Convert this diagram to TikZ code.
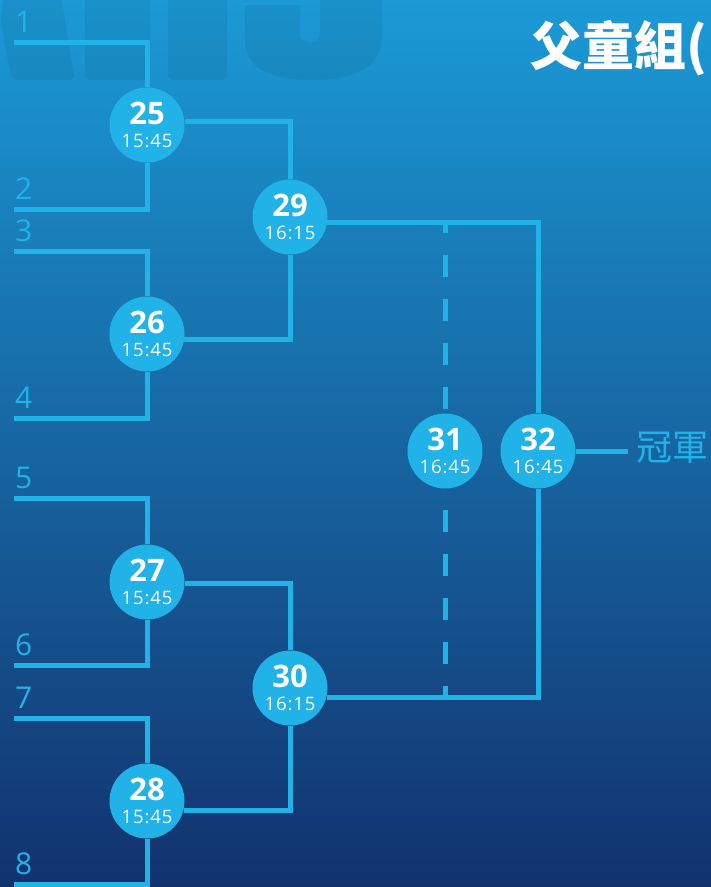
\documentclass[tikz,border=0pt]{standalone}
\usepackage{fontspec}
\setmainfont{Open Sans}
\newfontfamily\cjk{Noto Sans CJK TC}
\usetikzlibrary{positioning}
\definecolor{bracketblue}{RGB}{33,178,232}
\definecolor{skytop}{RGB}{27,154,214}
\definecolor{navybottom}{RGB}{18,50,110}
\tikzstyle{game}=[circle,fill=bracketblue,text=white,inner sep=0pt,
  minimum size=75pt,align=center,
  font=\fontsize{18.5}{23}\selectfont\addfontfeatures{LetterSpace=5}]
\tikzstyle{wire}=[draw=bracketblue,line width=5pt]
\tikzstyle{seed}=[anchor=base west,inner sep=0pt,text=bracketblue,
  font=\fontsize{30}{30}\selectfont]
\newcommand{\gamelabel}[2]{{\fontsize{31}{23}\selectfont\addfontfeatures{LetterSpace=0}\bfseries #1}\\#2}

\begin{document}
\begin{tikzpicture}[x=1pt, y=-1pt, on grid]
  \tikzstyle{champ}=[anchor=west,inner sep=0pt,text=bracketblue,
    font=\cjk\fontsize{36}{36}\selectfont]
  \tikzstyle{dashwire}=[wire,dash pattern=on 22pt off 22pt,dash phase=11pt]

  \useasboundingbox (0,0) rectangle (711,887);
  \shade[top color=skytop, bottom color=navybottom] (0,0) rectangle (711,887);
  \clip (0,0) rectangle (711,887);

  % faint letters in the background
  \begin{scope}[black, opacity=.06]
    \fill[rounded corners=6pt] (5,-10) -- (60,-10) -- (75,80) -- (12,80) -- (0,20) -- cycle;
    \fill[rounded corners=6pt] (85,-10) rectangle (150,80);
    \fill[rounded corners=6pt] (168,-10) rectangle (227,80);
    \fill (245,5) -- (245,40) .. controls (245,68) and (270,80) .. (312,80)
      .. controls (355,80) and (382,68) .. (382,35) -- (382,-10) -- (320,-10)
      -- (320,35) .. controls (320,45) and (300,45) .. (300,35) -- (300,5) -- cycle;
  \end{scope}

  \node[anchor=base west,inner sep=0pt,text=white,
    font=\cjk\bfseries\fontsize{52}{52}\selectfont] (title) at (530,65) {父童組(};

  % first round
  \node[game] (n25) at (147,125) {\gamelabel{25}{15:45}};
  \node[game] (n26) at (147,334) {\gamelabel{26}{15:45}};
  \node[game] (n27) at (147,582) {\gamelabel{27}{15:45}};
  \node[game] (n28) at (147,801) {\gamelabel{28}{15:45}};

  % semi finals
  \node[game] (n29) at (290,217) {\gamelabel{29}{16:15}};
  \node[game] (n30) at (290,688) {\gamelabel{30}{16:15}};

  % finals
  \node[game] (n32) at (538,451) {\gamelabel{32}{16:45}};
  \node[game, left=93pt of n32] (n31) {\gamelabel{31}{16:45}};
  \node[champ] (champ) at (636,448) {冠軍};

  \foreach \k/\y in {1/42,2/209,3/251,4/418,5/498,6/665,7/718,8/884} {
    \node[seed] (l\k) at (15,\y-10) {\k};
    \coordinate (s\k) at (14,\y);
  }

  \draw[wire] (s1) -| (n25);
  \draw[wire] (s2) -| (n25);
  \draw[wire] (s3) -| (n26);
  \draw[wire] (s4) -| (n26);
  \draw[wire] (s5) -| (n27);
  \draw[wire] (s6) -| (n27);
  \draw[wire] (s7) -| (n28);
  \draw[wire] (s8) -| (n28);

  \draw[wire] (n25.5) -| (n29);
  \draw[wire] (n26.-8) -| (n29);
  \draw[wire] (n27.-3) -| (n30);
  \draw[wire] (n28.-14) -| (n30);

  \draw[wire] (n29.-8) -| (n32);
  \draw[wire] (n30.-14) -| (n32);

  \coordinate (d1) at (445,222);
  \coordinate (d2) at (445,697);
  \draw[dashwire] (d1) -- (n31);
  \draw[dashwire] (d2) -- (n31);

  \coordinate (champend) at ([xshift=-8pt]champ.west |- n32);
  \draw[wire] (n32) -- (champend);
\end{tikzpicture}
\end{document}
